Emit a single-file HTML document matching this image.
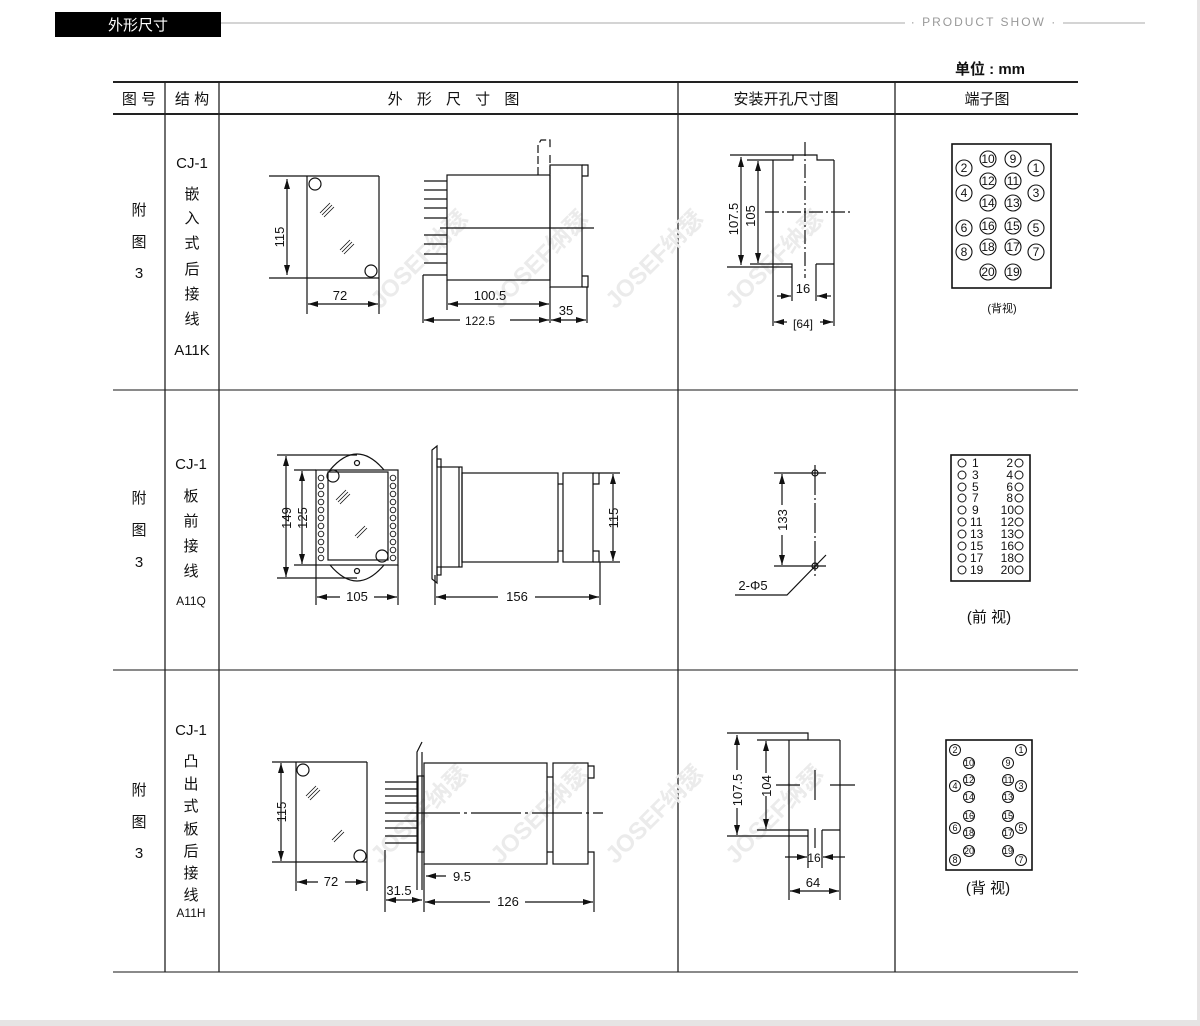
<!DOCTYPE html>
<html><head><meta charset="utf-8"><style>
html,body{margin:0;padding:0;background:#fff;}
svg{display:block;}
text{font-family:"Liberation Sans","Noto Sans CJK SC",sans-serif;fill:#111;}
</style></head><body>
<svg width="1200" height="1026" viewBox="0 0 1200 1026" xmlns="http://www.w3.org/2000/svg">
<defs>
<marker id="a" viewBox="0 0 10 6" refX="10" refY="3" markerWidth="10" markerHeight="6" orient="auto-start-reverse" markerUnits="userSpaceOnUse"><path d="M0,0 L10,3 L0,6 z" fill="#111"/></marker>
</defs>
<rect x="1197" y="0" width="3" height="1026" fill="#e6e4e4"/>
<rect x="0" y="1020" width="1200" height="6" fill="#e6e4e4"/>
<!-- header -->
<rect x="55" y="12" width="166" height="25" fill="#000"/>
<text x="138" y="30" text-anchor="middle" font-size="15" style="fill:#fff">外形尺寸</text>
<line x1="221" y1="23" x2="905" y2="23" stroke="#aaa" stroke-width="1"/>
<line x1="1063" y1="23" x2="1145" y2="23" stroke="#aaa" stroke-width="1"/>
<text x="984" y="26" text-anchor="middle" font-size="12" letter-spacing="2" style="fill:#999">· PRODUCT SHOW ·</text>
<text x="990" y="74" text-anchor="middle" font-size="15" font-weight="bold">单位 : mm</text>
<!-- table -->
<g stroke="#222" fill="none">
<line x1="113" y1="82" x2="1078" y2="82" stroke-width="2"/>
<line x1="113" y1="114" x2="1078" y2="114" stroke-width="2"/>
<line x1="113" y1="390" x2="1078" y2="390" stroke="#444" stroke-width="1.3"/>
<line x1="113" y1="670" x2="1078" y2="670" stroke="#444" stroke-width="1.3"/>
<line x1="113" y1="972" x2="1078" y2="972" stroke="#444" stroke-width="1.3"/>
<line x1="165" y1="82" x2="165" y2="972" stroke-width="1.3"/>
<line x1="219" y1="82" x2="219" y2="972" stroke-width="1.3"/>
<line x1="678" y1="82" x2="678" y2="972" stroke-width="1.3"/>
<line x1="895" y1="82" x2="895" y2="972" stroke-width="1.3"/>
</g>
<g font-size="15" text-anchor="middle">
<text x="139" y="104">图 号</text><text x="192" y="104">结 构</text>
<text x="456" y="104" letter-spacing="5">外 形 尺 寸 图</text>
<text x="786" y="104">安装开孔尺寸图</text><text x="987" y="104">端子图</text>
</g>
<!-- left columns -->
<g font-size="15" text-anchor="middle">
<text x="139" y="215">附</text><text x="139" y="247">图</text><text x="139" y="278">3</text>
<text x="139" y="503">附</text><text x="139" y="535">图</text><text x="139" y="567">3</text>
<text x="139" y="795">附</text><text x="139" y="827">图</text><text x="139" y="858">3</text>
<text x="192" y="168">CJ-1</text><text x="192" y="199">嵌</text><text x="192" y="223">入</text><text x="192" y="248">式</text><text x="192" y="274">后</text><text x="192" y="299">接</text><text x="192" y="324">线</text><text x="192" y="355">A11K</text>
<text x="191" y="469">CJ-1</text><text x="191" y="501">板</text><text x="191" y="526">前</text><text x="191" y="551">接</text><text x="191" y="576">线</text><text x="191" y="605" font-size="12">A11Q</text>
<text x="191" y="735">CJ-1</text><text x="191" y="766">凸</text><text x="191" y="789">出</text><text x="191" y="811">式</text><text x="191" y="834">板</text><text x="191" y="856">后</text><text x="191" y="878">接</text><text x="191" y="900">线</text><text x="191" y="917" font-size="12">A11H</text>
</g>
<!-- watermarks -->
<g font-size="24" font-weight="bold" text-anchor="middle">
<text transform="translate(425,265) rotate(-45)" style="fill:#ebebeb">JOSEF纳瑟</text>
<text transform="translate(545,265) rotate(-45)" style="fill:#ebebeb">JOSEF纳瑟</text>
<text transform="translate(660,265) rotate(-45)" style="fill:#ebebeb">JOSEF纳瑟</text>
<text transform="translate(780,265) rotate(-45)" style="fill:#ebebeb">JOSEF纳瑟</text>
<text transform="translate(425,820) rotate(-45)" style="fill:#ebebeb">JOSEF纳瑟</text>
<text transform="translate(545,820) rotate(-45)" style="fill:#ebebeb">JOSEF纳瑟</text>
<text transform="translate(660,820) rotate(-45)" style="fill:#ebebeb">JOSEF纳瑟</text>
<text transform="translate(780,820) rotate(-45)" style="fill:#ebebeb">JOSEF纳瑟</text>
</g>
<g stroke="#111" stroke-width="1.2" fill="none">
<!-- ROW1 front -->
<line x1="269" y1="176" x2="379" y2="176"/><line x1="269" y1="278" x2="379" y2="278"/>
<line x1="307" y1="176" x2="307" y2="314"/><line x1="379" y1="176" x2="379" y2="314"/>
<circle cx="315" cy="184" r="6"/><circle cx="371" cy="271" r="6"/>
<path d="M320 213 l10 -10 M322 215 l10 -10 M324 217 l10 -10 M340 250 l10 -10 M342 252 l10 -10 M344 254 l10 -10" stroke-width="0.8"/>
<line x1="287" y1="179" x2="287" y2="275" marker-start="url(#a)" marker-end="url(#a)"/>
<line x1="308" y1="304" x2="378" y2="304" marker-start="url(#a)" marker-end="url(#a)"/>
<!-- ROW1 side -->
<rect x="447" y="175" width="103" height="105"/>
<rect x="550" y="165" width="32" height="122"/>
<path d="M582 165 h6 v11 h-6 M582 276 h6 v11 h-6"/>
<path d="M538 175 v-30 l3 -5 h9 v8 M550 155 v20" stroke-dasharray="8 3"/>
<path d="M424 181 h23 M424 190 h23 M424 199 h23 M424 208 h23 M424 218 h23 M424 235 h23 M424 244 h23 M424 254 h23 M424 263 h23"/>
<path d="M423 275 h24 M423 275 v48 M447 280 v30 M550 287 v36 M587 287 v36"/>
<line x1="440" y1="228" x2="594" y2="228"/>
<line x1="448" y1="304" x2="549" y2="304" marker-start="url(#a)" marker-end="url(#a)"/>
<line x1="424" y1="320" x2="460" y2="320" marker-start="url(#a)"/><line x1="510" y1="320" x2="549" y2="320" marker-end="url(#a)"/>
<line x1="551" y1="320" x2="586" y2="320" marker-start="url(#a)" marker-end="url(#a)"/>
<!-- ROW1 cutout -->
<path d="M730 155 h87 v5 h17 M747 160 h46 v-5 M773 160 v166 M834 160 v104 h-18 M727 267 h65 M750 264 h42 v37 M816 264 v37 M834 264 v62"/>
<line x1="805" y1="142" x2="805" y2="278" stroke-dasharray="14 3 2 3"/>
<line x1="765" y1="212" x2="850" y2="212" stroke-dasharray="14 3 2 3"/>
<line x1="741" y1="157" x2="741" y2="265" marker-start="url(#a)" marker-end="url(#a)"/>
<line x1="758" y1="161" x2="758" y2="263" marker-start="url(#a)" marker-end="url(#a)"/>
<line x1="777" y1="296" x2="791" y2="296" marker-end="url(#a)"/><line x1="831" y1="296" x2="817" y2="296" marker-end="url(#a)"/>
<line x1="774" y1="322" x2="787" y2="322" marker-start="url(#a)"/><line x1="820" y1="322" x2="833" y2="322" marker-end="url(#a)"/>
<!-- ROW1 terminal -->
<rect x="952" y="144" width="99" height="144" stroke-width="1.6"/>
<!-- ROW2 front -->
<rect x="316" y="470" width="82" height="95"/>
<rect x="328" y="472" width="60" height="88"/>
<path d="M330 470 Q357 438 384 470 M330 565 Q357 597 384 565"/>
<circle cx="357" cy="463" r="2.5"/><circle cx="357" cy="571" r="2.5"/>
<circle cx="333" cy="476" r="6"/><circle cx="382" cy="556" r="6"/>
<g stroke-width="0.9"><circle cx="321" cy="478" r="2.8"/><circle cx="321" cy="486" r="2.8"/><circle cx="321" cy="494" r="2.8"/><circle cx="321" cy="502" r="2.8"/><circle cx="321" cy="510" r="2.8"/><circle cx="321" cy="518" r="2.8"/><circle cx="321" cy="526" r="2.8"/><circle cx="321" cy="534" r="2.8"/><circle cx="321" cy="542" r="2.8"/><circle cx="321" cy="550" r="2.8"/><circle cx="321" cy="558" r="2.8"/>
<circle cx="393" cy="478" r="2.8"/><circle cx="393" cy="486" r="2.8"/><circle cx="393" cy="494" r="2.8"/><circle cx="393" cy="502" r="2.8"/><circle cx="393" cy="510" r="2.8"/><circle cx="393" cy="518" r="2.8"/><circle cx="393" cy="526" r="2.8"/><circle cx="393" cy="534" r="2.8"/><circle cx="393" cy="542" r="2.8"/><circle cx="393" cy="550" r="2.8"/><circle cx="393" cy="558" r="2.8"/></g>
<path d="M336 500 l10 -10 M338 502 l10 -10 M340 504 l10 -10 M355 536 l10 -10 M357 538 l10 -10" stroke-width="0.8"/>
<path d="M277 455 h80 M294 470 h22 M294 565 h22 M277 578 h80 M316 565 v40 M398 565 v40"/>
<line x1="286" y1="456" x2="286" y2="577" marker-start="url(#a)" marker-end="url(#a)"/>
<line x1="302" y1="471" x2="302" y2="564" marker-start="url(#a)" marker-end="url(#a)"/>
<line x1="317" y1="597" x2="340" y2="597" marker-start="url(#a)"/><line x1="374" y1="597" x2="397" y2="597" marker-end="url(#a)"/>
<!-- ROW2 side -->
<path d="M437 446 l-5 4 v129 l5 4 z"/>
<rect x="437" y="459" width="4" height="8"/><rect x="437" y="567" width="4" height="8"/>
<rect x="441" y="467" width="21" height="100"/>
<line x1="459" y1="467" x2="459" y2="567"/>
<rect x="462" y="473" width="96" height="89"/>
<path d="M558 484 h5 M558 551 h5"/>
<rect x="563" y="473" width="30" height="89"/>
<path d="M593 473 h6 v11 h-6 M593 551 h6 v11 M593 473 h27 M593 562 h27 M435 575 v30 M600 562 v43"/>
<line x1="613" y1="474" x2="613" y2="561" marker-start="url(#a)" marker-end="url(#a)"/>
<line x1="436" y1="597" x2="498" y2="597" marker-start="url(#a)"/><line x1="535" y1="597" x2="599" y2="597" marker-end="url(#a)"/>
<!-- ROW2 cutout -->
<circle cx="815" cy="473" r="3"/><circle cx="815" cy="566" r="3"/>
<path d="M774 473 h52 M774 566 h52"/>
<line x1="815" y1="465" x2="815" y2="578" stroke-dasharray="30 3 2 3"/>
<path d="M826 555 L787 595 H735"/>
<line x1="782" y1="474" x2="782" y2="505" marker-start="url(#a)"/><line x1="782" y1="535" x2="782" y2="565" marker-end="url(#a)"/>
<!-- ROW2 terminal -->
<rect x="951" y="455" width="79" height="126" stroke-width="1.6"/>
<!-- ROW3 front -->
<line x1="272" y1="762" x2="367" y2="762"/><line x1="272" y1="862" x2="367" y2="862"/>
<line x1="296" y1="762" x2="296" y2="891"/><line x1="367" y1="762" x2="367" y2="891"/>
<circle cx="303" cy="770" r="6"/><circle cx="360" cy="856" r="6"/>
<path d="M306 796 l10 -10 M308 798 l10 -10 M310 800 l10 -10 M332 840 l10 -10 M334 842 l10 -10" stroke-width="0.8"/>
<line x1="281" y1="763" x2="281" y2="861" marker-start="url(#a)" marker-end="url(#a)"/>
<line x1="297" y1="882" x2="318" y2="882" marker-start="url(#a)"/><line x1="345" y1="882" x2="366" y2="882" marker-end="url(#a)"/>
<!-- ROW3 side -->
<path d="M417 890 V752 L422 742 M422 752 V890"/>
<rect x="418" y="776" width="6" height="76"/>
<path d="M385 782 h32 M385 789 h32 M385 796 h32 M385 803 h32 M385 813 h32 M385 821 h32 M385 828 h32 M385 836 h32 M385 843 h32"/>
<rect x="424" y="763" width="123" height="101"/>
<path d="M547 777 h6 M547 852 h6"/>
<rect x="553" y="763" width="35" height="101"/>
<path d="M588 766 h6 v12 h-6 M588 852 h6 v12 M594 864 v48 M424 864 v48 M385 850 v62"/>
<line x1="410" y1="813" x2="603" y2="813" stroke-dasharray="50 4 3 4"/>
<line x1="446" y1="876" x2="426" y2="876" marker-end="url(#a)"/>
<line x1="386" y1="900" x2="422" y2="900" marker-start="url(#a)" marker-end="url(#a)"/>
<line x1="425" y1="902" x2="490" y2="902" marker-start="url(#a)"/><line x1="525" y1="902" x2="593" y2="902" marker-end="url(#a)"/>
<!-- ROW3 cutout -->
<path d="M727 733 h81 v7 h32 M757 740 h51 M789 740 v160 M840 740 v160 M727 836 h81 M757 830 h51 v38 M822 830 v38 M822 830 h18"/>
<path d="M776 785 h24 M830 785 h25 M815 770 v30 M815 828 v20"/>
<line x1="737" y1="735" x2="737" y2="770" marker-start="url(#a)"/><line x1="737" y1="808" x2="737" y2="835" marker-end="url(#a)"/>
<line x1="766" y1="741" x2="766" y2="773" marker-start="url(#a)"/><line x1="766" y1="796" x2="766" y2="829" marker-end="url(#a)"/>
<line x1="785" y1="857" x2="807" y2="857" marker-end="url(#a)"/><line x1="845" y1="857" x2="823" y2="857" marker-end="url(#a)"/>
<line x1="790" y1="891" x2="839" y2="891" marker-start="url(#a)" marker-end="url(#a)"/>
<!-- ROW3 terminal -->
<rect x="946" y="740" width="86" height="130" stroke-width="1.6"/>
</g>
<!-- dimension texts -->
<g font-size="13" text-anchor="middle">
<text transform="translate(284,237) rotate(-90)">115</text>
<text x="340" y="300">72</text>
<text x="490" y="300">100.5</text>
<text x="480" y="325" font-size="12">122.5</text>
<text x="566" y="315">35</text>
<text transform="translate(738,219) rotate(-90)">107.5</text>
<text transform="translate(755,216) rotate(-90)">105</text>
<text x="803" y="293">16</text>
<text x="803" y="328" font-size="12">[64]</text>
<text transform="translate(291,518) rotate(-90)">149</text>
<text transform="translate(307,518) rotate(-90)">125</text>
<text x="357" y="601">105</text>
<text x="517" y="601">156</text>
<text transform="translate(618,518) rotate(-90)">115</text>
<text transform="translate(787,520) rotate(-90)">133</text>
<text x="753" y="590">2-Φ5</text>
<text transform="translate(286,812) rotate(-90)">115</text>
<text x="331" y="886">72</text>
<text x="462" y="881">9.5</text>
<text x="399" y="895">31.5</text>
<text x="508" y="906">126</text>
<text transform="translate(742,790) rotate(-90)">107.5</text>
<text transform="translate(771,786) rotate(-90)">104</text>
<text x="814" y="862" font-size="12">16</text>
<text x="813" y="887">64</text>
</g>
<!-- row1 terminals -->
<g font-size="12" text-anchor="middle" stroke="#111" stroke-width="1.1">
<g fill="none">
<circle cx="988" cy="159" r="8"/><circle cx="1013" cy="159" r="8"/><circle cx="964" cy="168" r="8"/><circle cx="1036" cy="168" r="8"/>
<circle cx="988" cy="181" r="8"/><circle cx="1013" cy="181" r="8"/><circle cx="964" cy="193" r="8"/><circle cx="1036" cy="193" r="8"/>
<circle cx="988" cy="203" r="8"/><circle cx="1013" cy="203" r="8"/><circle cx="988" cy="226" r="8"/><circle cx="1013" cy="226" r="8"/>
<circle cx="964" cy="228" r="8"/><circle cx="1036" cy="228" r="8"/><circle cx="988" cy="247" r="8"/><circle cx="1013" cy="247" r="8"/>
<circle cx="964" cy="252" r="8"/><circle cx="1036" cy="252" r="8"/><circle cx="988" cy="272" r="8"/><circle cx="1013" cy="272" r="8"/>
</g>
<g stroke="none">
<text x="988" y="163">10</text><text x="1013" y="163">9</text><text x="964" y="172">2</text><text x="1036" y="172">1</text>
<text x="988" y="185">12</text><text x="1013" y="185">11</text><text x="964" y="197">4</text><text x="1036" y="197">3</text>
<text x="988" y="207">14</text><text x="1013" y="207">13</text><text x="988" y="230">16</text><text x="1013" y="230">15</text>
<text x="964" y="232">6</text><text x="1036" y="232">5</text><text x="988" y="251">18</text><text x="1013" y="251">17</text>
<text x="964" y="256">8</text><text x="1036" y="256">7</text><text x="988" y="276">20</text><text x="1013" y="276">19</text>
<text x="1002" y="312" font-size="11">(背视)</text>
</g>
</g>
<!-- row2 terminals -->
<g font-size="12" stroke="#111" stroke-width="1">
<g fill="none">
<circle cx="962" cy="463" r="4"/><circle cx="962" cy="475" r="4"/><circle cx="962" cy="487" r="4"/><circle cx="962" cy="498" r="4"/><circle cx="962" cy="510" r="4"/><circle cx="962" cy="522" r="4"/><circle cx="962" cy="534" r="4"/><circle cx="962" cy="546" r="4"/><circle cx="962" cy="558" r="4"/><circle cx="962" cy="570" r="4"/>
<circle cx="1019" cy="463" r="4"/><circle cx="1019" cy="475" r="4"/><circle cx="1019" cy="487" r="4"/><circle cx="1019" cy="498" r="4"/><circle cx="1019" cy="510" r="4"/><circle cx="1019" cy="522" r="4"/><circle cx="1019" cy="534" r="4"/><circle cx="1019" cy="546" r="4"/><circle cx="1019" cy="558" r="4"/><circle cx="1019" cy="570" r="4"/>
</g>
<g stroke="none">
<text x="972" y="467">1</text><text x="972" y="479">3</text><text x="972" y="491">5</text><text x="972" y="502">7</text><text x="972" y="514">9</text><text x="970" y="526">11</text><text x="970" y="538">13</text><text x="970" y="550">15</text><text x="970" y="562">17</text><text x="970" y="574">19</text>
<g text-anchor="end"><text x="1013" y="467">2</text><text x="1013" y="479">4</text><text x="1013" y="491">6</text><text x="1013" y="502">8</text><text x="1014" y="514">10</text><text x="1014" y="526">12</text><text x="1014" y="538">13</text><text x="1014" y="550">16</text><text x="1014" y="562">18</text><text x="1014" y="574">20</text></g>
<text x="989" y="622" font-size="15" text-anchor="middle">(前 视)</text>
</g>
</g>
<!-- row3 terminals -->
<g font-size="9" text-anchor="middle" stroke="#111" stroke-width="1">
<g fill="none">
<circle cx="955" cy="750" r="5.5"/><circle cx="1021" cy="750" r="5.5"/><circle cx="969" cy="763" r="5.5"/><circle cx="1008" cy="763" r="5.5"/>
<circle cx="969" cy="780" r="5.5"/><circle cx="1008" cy="780" r="5.5"/><circle cx="955" cy="786" r="5.5"/><circle cx="1021" cy="786" r="5.5"/>
<circle cx="969" cy="797" r="5.5"/><circle cx="1008" cy="797" r="5.5"/><circle cx="969" cy="816" r="5.5"/><circle cx="1008" cy="816" r="5.5"/>
<circle cx="955" cy="828" r="5.5"/><circle cx="1021" cy="828" r="5.5"/><circle cx="969" cy="833" r="5.5"/><circle cx="1008" cy="833" r="5.5"/>
<circle cx="969" cy="851" r="5.5"/><circle cx="1008" cy="851" r="5.5"/><circle cx="955" cy="860" r="5.5"/><circle cx="1021" cy="860" r="5.5"/>
</g>
<g stroke="none">
<text x="955" y="753">2</text><text x="1021" y="753">1</text><text x="969" y="766">10</text><text x="1008" y="766">9</text>
<text x="969" y="783">12</text><text x="1008" y="783">11</text><text x="955" y="789">4</text><text x="1021" y="789">3</text>
<text x="969" y="800">14</text><text x="1008" y="800">13</text><text x="969" y="819">16</text><text x="1008" y="819">15</text>
<text x="955" y="831">6</text><text x="1021" y="831">5</text><text x="969" y="836">18</text><text x="1008" y="836">17</text>
<text x="969" y="854">20</text><text x="1008" y="854">19</text><text x="955" y="863">8</text><text x="1021" y="863">7</text>
<text x="988" y="893" font-size="15">(背 视)</text>
</g>
</g>
</svg>
</body></html>
